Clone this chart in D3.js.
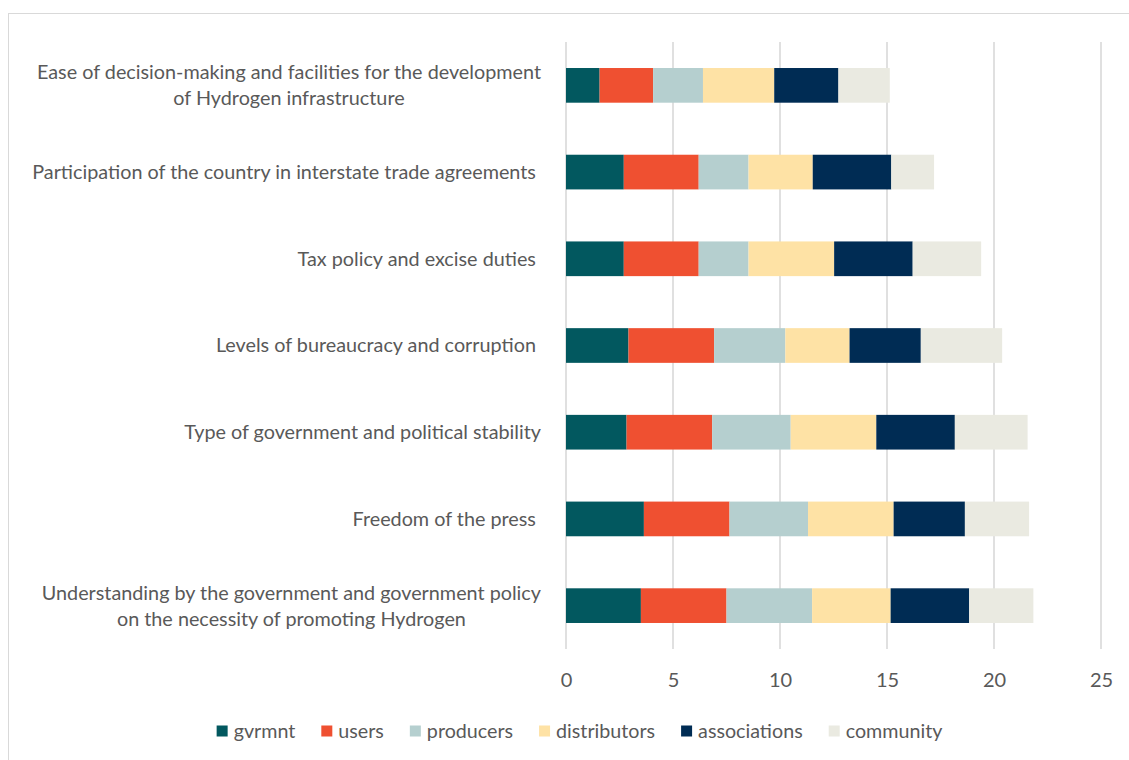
<!DOCTYPE html>
<html>
<head>
<meta charset="utf-8">
<script src="https://cdn.jsdelivr.net/npm/d3@7"></script>
<style>
  html, body { margin: 0; padding: 0; background: #fff; }
  svg { display: block; }
  text { font-family: Lato, "Open Sans", sans-serif; fill: #595959; }
</style>
</head>
<body>
<svg id="chart" width="1129" height="760"></svg>
<script>
// Factor labels, top to bottom (each entry holds the label's lines)
const categories = [
  ["Ease of decision-making and facilities for the development", "of Hydrogen infrastructure"],
  ["Participation of the country in interstate trade agreements "],
  ["Tax policy and excise duties "],
  ["Levels of bureaucracy and corruption "],
  ["Type of government and political stability"],
  ["Freedom of the press "],
  ["Understanding by the government and government policy", "on the necessity of promoting Hydrogen"]
];

const seriesNames = ["gvrmnt", "users", "producers", "distributors", "associations", "community"];

const gvrmnt       = [1.57, 2.70, 2.70, 2.92, 2.83, 3.64, 3.50];
const users        = [2.50, 3.50, 3.50, 4.00, 4.00, 4.00, 4.00];
const producers    = [2.33, 2.33, 2.33, 3.33, 3.67, 3.67, 4.00];
const distributors = [3.33, 3.00, 4.00, 3.00, 4.00, 4.00, 3.67];
const associations = [3.00, 3.67, 3.67, 3.33, 3.67, 3.33, 3.67];
const community    = [2.40, 2.00, 3.20, 3.80, 3.40, 3.00, 3.00];

const xTicks = [0, 5, 10, 15, 20, 25];

const colors = ["#02585F", "#EF5031", "#B5CFCF", "#FEE2A5", "#002C54", "#EAEAE1"];

const seriesValues = [gvrmnt, users, producers, distributors, associations, community];
const rows = categories.map((c, i) => {
  const r = { key: i };
  seriesNames.forEach((s, j) => { r[s] = seriesValues[j][i]; });
  return r;
});

const svg = d3.select("#chart");

// outer frame
svg.append("rect")
  .attr("x", 8.5).attr("y", 13.5)
  .attr("width", 1200).attr("height", 800)
  .attr("fill", "none").attr("stroke", "#d9d9d9").attr("stroke-width", 1);

const plot = { left: 566, right: 1101, top: 42, bottom: 649 };

const x = d3.scaleLinear().domain([0, 25]).range([plot.left, plot.right]);
const y = d3.scaleBand()
  .domain(d3.range(categories.length))
  .range([plot.top, plot.bottom])
  .paddingInner(0.6).paddingOuter(0.3);

// vertical gridlines
svg.append("g").selectAll("line")
  .data(xTicks)
  .join("line")
  .attr("x1", d => x(d)).attr("x2", d => x(d))
  .attr("y1", plot.top).attr("y2", plot.bottom)
  .attr("stroke", "#d9d9d9").attr("stroke-width", 1.6);

// stacked bars
const stack = d3.stack().keys(seriesNames);
const layers = stack(rows);

svg.append("g").selectAll("g")
  .data(layers)
  .join("g")
  .attr("fill", (d, i) => colors[i])
  .selectAll("rect")
  .data(d => d)
  .join("rect")
  .attr("x", d => x(d[0]))
  .attr("width", d => x(d[1]) - x(d[0]))
  .attr("y", (d, i) => y(i))
  .attr("height", y.bandwidth());

// x axis tick labels
const xAxis = d3.axisBottom(x).tickValues(xTicks).tickSize(0).tickPadding(0);
const gx = svg.append("g")
  .attr("transform", `translate(0, ${plot.bottom})`)
  .call(xAxis);
gx.select(".domain").remove();
gx.selectAll("text")
  .attr("y", 0).attr("dy", "38px")
  .style("font-size", "20px")
  .style("font-family", "Lato, 'Open Sans', sans-serif")
  .attr("fill", "#595959");

// category labels (multi-line, centred block, right-aligned to the axis)
const labelRight = 541;
const lineH = 26;
const labels = svg.append("g");
categories.forEach((lines, i) => {
  const cy = y(i) + y.bandwidth() / 2;
  const t = labels.append("text")
    .style("font-size", "19.8px")
    .style("white-space", "pre")
    .attr("text-anchor", "middle");
  const n = lines.length;
  lines.forEach((ln, k) => {
    t.append("tspan")
      .attr("y", cy + (k - (n - 1) / 2) * lineH)
      .attr("dy", "0.35em")
      .text(ln);
  });
  // centre all lines on the widest one, whose right edge sits at labelRight
  const widths = [];
  t.selectAll("tspan").each(function () { widths.push(this.getComputedTextLength()); });
  const w = d3.max(widths);
  t.selectAll("tspan").attr("x", labelRight - w / 2);
});

// legend
const legend = svg.append("g");
let lx = 0;
seriesNames.forEach((s, i) => {
  const g = legend.append("g").attr("transform", `translate(${lx},0)`);
  g.append("rect").attr("x", 0).attr("y", -5.5).attr("width", 11).attr("height", 11).attr("fill", colors[i]);
  const t = g.append("text").attr("x", 17).attr("dy", "0.35em").style("font-size", "19.7px").text(s);
  lx += 17 + t.node().getComputedTextLength() + 26;
});
const totalW = lx - 26;
legend.attr("transform", `translate(${(217 + 942) / 2 - totalW / 2}, 731)`);
</script>
</body>
</html>
